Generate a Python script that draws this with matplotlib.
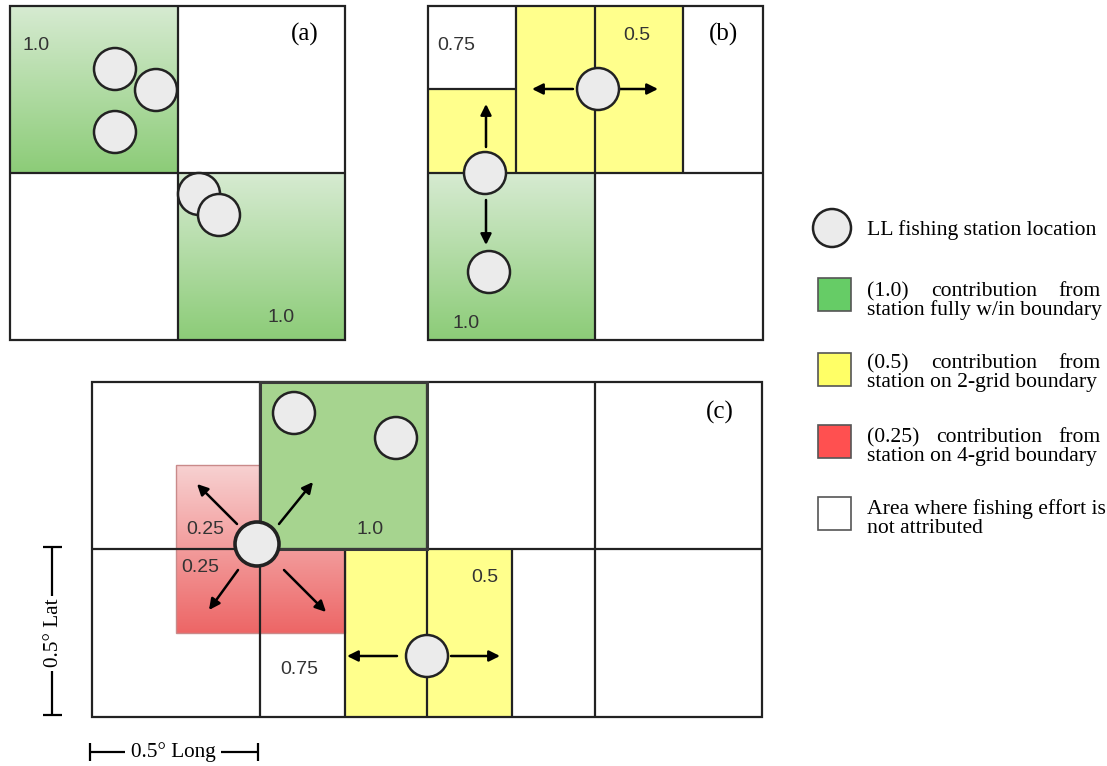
import matplotlib
matplotlib.use("Agg")
import matplotlib.pyplot as plt
import matplotlib.patches as mpatches
import numpy as np

# ---------------- data (labels / weights) ----------------
panel_labels = ["(a)", "(b)", "(c)"]
weights_a = ["1.0", "1.0"]
weights_b = ["0.75", "0.5", "1.0"]
weights_c = ["0.25", "0.25", "1.0", "0.5", "0.75"]
legend_first_words = [["(1.0)", "contribution", "from"],
                      ["(0.5)", "contribution", "from"],
                      ["(0.25)", "contribution", "from"]]
legend_second_lines = ["station fully w/in boundary",
                       "station on 2-grid boundary",
                       "station on 4-grid boundary"]
legend_station = "LL fishing station location"
legend_white = ["Area where fishing effort is", "not attributed"]
scale_lat = "0.5° Lat"
scale_long = "0.5° Long"

# ---------------- styles ----------------
GRID = "#222222"
CIRC_FACE = "#ebebeb"
NUM_COLOR = "#333333"
G_LIGHT = np.array([0.84, 0.92, 0.82])
G_DARK = np.array([0.55, 0.80, 0.47])
R_LIGHT = np.array([0.97, 0.82, 0.82])
R_DARK = np.array([0.93, 0.40, 0.40])
YEL = "#ffff8c"
GREEN_FLAT = "#a6d48f"
SANS = "Liberation Sans"
SERIF = "Liberation Serif"

fig = plt.figure(figsize=(11.07, 7.66), dpi=100)
ax = fig.add_axes([0, 0, 1, 1])
ax.set_xlim(0, 1107)
ax.set_ylim(766, 0)
ax.axis("off")


def grad(x0, x1, y0, y1, c_top, c_bot, z=1):
    n = 100
    t = np.linspace(0, 1, n)[:, None, None]
    img = c_top[None, None, :] * (1 - t) + c_bot[None, None, :] * t
    ax.imshow(img, extent=(x0, x1, y1, y0), origin="upper", aspect="auto",
              interpolation="bilinear", zorder=z)


def rect(x0, x1, y0, y1, fc="none", ec="none", lw=0, z=1):
    ax.add_patch(mpatches.Rectangle((x0, y0), x1 - x0, y1 - y0, facecolor=fc,
                                    edgecolor=ec, linewidth=lw, zorder=z))


def line(xs, ys, lw=1.6, c=GRID, z=3):
    ax.plot(xs, ys, color=c, lw=lw, solid_capstyle="butt", zorder=z)


def circ(x, y, r=21, z=6, lw=1.8):
    ax.add_patch(mpatches.Circle((x, y), r, facecolor=CIRC_FACE, edgecolor=GRID,
                                 linewidth=lw, zorder=z))


def arrow(x0, y0, x1, y1):
    ax.annotate("", xy=(x1, y1), xytext=(x0, y0),
                arrowprops=dict(arrowstyle="-|>", mutation_scale=16, lw=1.8,
                                color="black", shrinkA=0, shrinkB=0), zorder=5)


def num(x, y, s):
    ax.text(x, y, s, fontsize=14, family=SANS, color=NUM_COLOR,
            ha="center", va="center", zorder=7)


def plab(x, y, s):
    ax.text(x, y, s, fontsize=18, family=SERIF, color="black",
            ha="center", va="center", zorder=7)


# ================= panel (a) =================
grad(10, 178, 6, 173, G_LIGHT, G_DARK)
grad(178, 345, 173, 340, G_LIGHT, G_DARK)
rect(10, 345, 6, 340, ec=GRID, lw=1.6, z=3)
line([178, 178], [6, 340])
line([10, 345], [173, 173])
for (cx, cy) in [(115, 69), (156, 90), (115, 132), (199, 194), (219, 215)]:
    circ(cx, cy)
num(36, 46, weights_a[0])
num(281, 317, weights_a[1])
plab(305, 34, panel_labels[0])

# ================= panel (b) =================
rect(428, 516, 89, 173, fc=YEL)
rect(516, 683, 6, 173, fc=YEL)
grad(428, 595, 173, 340, G_LIGHT, G_DARK)
rect(428, 763, 6, 340, ec=GRID, lw=1.6, z=3)
line([428, 763], [173, 173])
line([595, 595], [173, 340])
line([516, 516], [6, 173])
line([595, 595], [6, 173])
line([683, 683], [6, 173])
line([428, 516], [89, 89])
arrow(573, 89, 532, 89)
arrow(620, 89, 658, 89)
arrow(486, 147, 486, 104)
arrow(486, 200, 486, 245)
circ(598, 89)
circ(485, 173)
circ(489, 272)
num(456, 46, weights_b[0])
num(637, 36, weights_b[1])
num(466, 323, weights_b[2])
plab(723, 34, panel_labels[1])

# ================= panel (c) =================
mid_r = (R_LIGHT + R_DARK) / 2
grad(176, 260, 465, 549, R_LIGHT, mid_r)
grad(176, 345, 549, 633, mid_r, R_DARK)
rect(176, 345, 465, 633, ec="#c98a8a", lw=1.0, z=1.2)
rect(345, 512, 549, 717, fc=YEL)
rect(260, 427, 382, 549, fc=GREEN_FLAT, z=1.5)
rect(92, 762, 382, 717, ec=GRID, lw=1.6, z=3)
line([92, 762], [549, 549])
for xv in [260, 427, 595]:
    line([xv, xv], [382, 549])
for xv in [260, 345, 427, 512, 595]:
    line([xv, xv], [549, 717])
rect(260, 427, 382, 549, ec="#3a3a3a", lw=2.2, z=3.5)
arrow(237, 524, 197, 484)
arrow(279, 524, 313, 482)
arrow(238, 570, 209, 610)
arrow(284, 570, 326, 612)
arrow(397, 656, 347, 656)
arrow(451, 656, 500, 656)
circ(294, 413)
circ(396, 438)
circ(257, 544, r=22, lw=2.6)
circ(427, 656, r=21)
num(205, 530, weights_c[0])
num(200, 567, weights_c[1])
num(370, 530, weights_c[2])
num(485, 577, weights_c[3])
num(299, 670, weights_c[4])
plab(720, 412, panel_labels[2])

# ---- scale bars ----
SFS = 15.3
line([52, 52], [547, 596], lw=1.6, c="black")
line([52, 52], [671, 715], lw=1.6, c="black")
line([43, 62], [547, 547], lw=1.6, c="black")
line([43, 62], [715, 715], lw=1.6, c="black")
ax.text(53, 633, scale_lat, rotation=90, fontsize=SFS, family=SERIF,
        ha="center", va="center")
line([90, 125], [752, 752], lw=1.6, c="black")
line([221, 258], [752, 752], lw=1.6, c="black")
line([90, 90], [743, 761], lw=1.6, c="black")
line([258, 258], [743, 761], lw=1.6, c="black")
ax.text(173, 752, scale_long, fontsize=SFS, family=SERIF,
        ha="center", va="center")

# ================= legend =================
LFS = 15.6
circ(832, 228, r=19, lw=1.8)
ax.text(867, 235, legend_station, fontsize=LFS, family=SERIF,
        ha="left", va="baseline")

sq_fc = ["#66cc66", "#ffff66", "#ff5050", "#ffffff"]
sq_y = [278, 353, 425, 497]
base1 = [296, 368, 442, 514]
base2 = [315, 387, 461, 533]
for fc, y0 in zip(sq_fc, sq_y):
    rect(818, 851, y0, y0 + 33, fc=fc, ec="#555555", lw=1.2, z=4)

fig.canvas.draw()
renderer = fig.canvas.get_renderer()
x_left, x_right = 867, 1101


def width_of(s):
    t = ax.text(0, 0, s, fontsize=LFS, family=SERIF)
    bb = t.get_window_extent(renderer)
    t.remove()
    return bb.width


for words, second, b1, b2 in zip(legend_first_words, legend_second_lines,
                                 base1[:3], base2[:3]):
    ws = [width_of(w) for w in words]
    gap = (x_right - x_left - sum(ws)) / (len(words) - 1)
    xc = x_left
    for w, wd in zip(words, ws):
        ax.text(xc, b1, w, fontsize=LFS, family=SERIF, ha="left", va="baseline")
        xc += wd + gap
    ax.text(x_left, b2, second, fontsize=LFS, family=SERIF, ha="left",
            va="baseline")

ax.text(x_left, base1[3], legend_white[0], fontsize=LFS, family=SERIF,
        ha="left", va="baseline")
ax.text(x_left, base2[3], legend_white[1], fontsize=LFS, family=SERIF,
        ha="left", va="baseline")

fig.savefig("out.png", dpi=100)
